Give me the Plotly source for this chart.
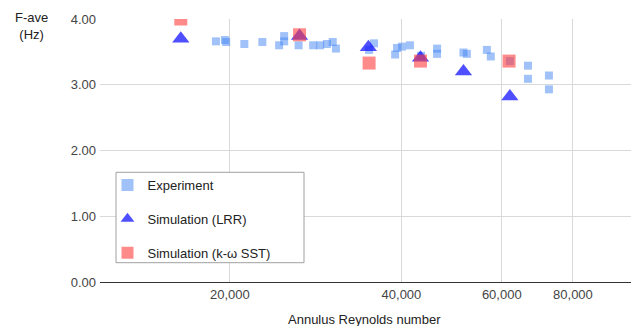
import plotly.graph_objects as go

# Experimental measurements: annulus Reynolds number vs average frequency (Hz)
exp_re = [18900, 19600, 19700, 21200, 22800, 24400, 24900, 24900, 26400, 28000,
          28800, 29600, 30300, 30700, 35100, 35800, 39000, 39300, 40100, 41400,
          43300, 46200, 46200, 51400, 52100, 56500, 57400, 62000, 66700, 66700,
          72600, 72600]
exp_f = [3.66, 3.68, 3.65, 3.62, 3.65, 3.60, 3.66, 3.74, 3.60, 3.60,
         3.60, 3.62, 3.65, 3.55, 3.53, 3.63, 3.46, 3.56, 3.58, 3.60,
         3.44, 3.55, 3.47, 3.49, 3.47, 3.53, 3.43, 3.36, 3.29, 3.09,
         3.14, 2.93]

# Simulation results, LRR turbulence model
lrr_re = [16400, 26500, 35000, 43200, 51400, 62000]
lrr_f = [3.70, 3.74, 3.57, 3.41, 3.20, 2.82]

# Simulation results, k-omega SST turbulence model
sst_re = [16400, 26500, 35100, 43200, 61800]
sst_f = [4.00, 3.76, 3.33, 3.36, 3.36]

x_ticks = [20000, 40000, 60000, 80000]
x_tick_text = ["20,000", "40,000", "60,000", "80,000"]
y_ticks = [0, 1, 2, 3, 4]

FONT = "Liberation Sans, Arial, sans-serif"
W, H = 631, 326
ML, MR, MT, MB = 100, 0, 19, 44
PW, PH = W - ML - MR, H - MT - MB


def px_x(p):
    return (p - ML) / PW


def px_y(p):
    return (H - MB - p) / PH


fig = go.Figure()
fig.add_trace(go.Scatter(
    x=exp_re, y=exp_f, mode="markers", name="Experiment", legendgroup="a",
    marker=dict(symbol="square", size=8, color="rgba(66,133,244,0.5)", line=dict(width=0)),
))
fig.add_trace(go.Scatter(
    x=lrr_re, y=lrr_f, mode="markers", name="Simulation (LRR)", legendgroup="b",
    marker=dict(symbol="triangle-up", size=15, color="rgba(20,20,255,0.75)", line=dict(width=0)),
))
fig.add_trace(go.Scatter(
    x=sst_re, y=sst_f, mode="markers", name="Simulation (k-ω SST)", legendgroup="c",
    marker=dict(symbol="square", size=13, color="rgba(255,60,60,0.6)", line=dict(width=0)),
))

# legend frame
fig.add_shape(type="rect", xref="paper", yref="paper",
              x0=px_x(116), x1=px_x(304), y0=px_y(262.7), y1=px_y(172.3),
              line=dict(color="#a0a0a0", width=1), fillcolor="white", layer="above")

fig.add_annotation(text="F-ave<br>(Hz)", xref="paper", yref="paper",
                   x=px_x(31), y=px_y(26.5), xanchor="center", yanchor="middle",
                   showarrow=False, font=dict(family=FONT, size=13, color="#222222"))
fig.add_annotation(text="Annulus Reynolds number", xref="paper", yref="paper",
                   x=px_x(364), y=px_y(319.5), xanchor="center", yanchor="middle",
                   showarrow=False, font=dict(family=FONT, size=13, color="#222222"))

fig.update_layout(
    width=W, height=H,
    margin=dict(l=ML, r=MR, t=MT, b=MB, pad=0),
    paper_bgcolor="white", plot_bgcolor="white",
    font=dict(family=FONT, size=13, color="#444444"),
    showlegend=True,
    legend=dict(x=px_x(107.5), y=px_y(170), xanchor="left", yanchor="top",
                bgcolor="rgba(0,0,0,0)", borderwidth=0, itemsizing="constant",
                tracegroupgap=14, font=dict(family=FONT, size=13, color="#222222")),
    xaxis=dict(type="log", range=[4.073, 5.005], tickvals=x_ticks, ticktext=x_tick_text,
               showgrid=True, gridcolor="#d9d9d9", gridwidth=1, zeroline=False,
               showline=True, linecolor="#333333", linewidth=1, ticks="",
               tickfont=dict(family=FONT, size=13, color="#444444")),
    yaxis=dict(range=[0, 4], tickvals=y_ticks, tickformat=".2f",
               showgrid=True, gridcolor="#d9d9d9", gridwidth=1, zeroline=False,
               showline=False, ticks="", ticklabelstandoff=3,
               tickfont=dict(family=FONT, size=13, color="#444444")),
)

fig.write_html("out.html")
